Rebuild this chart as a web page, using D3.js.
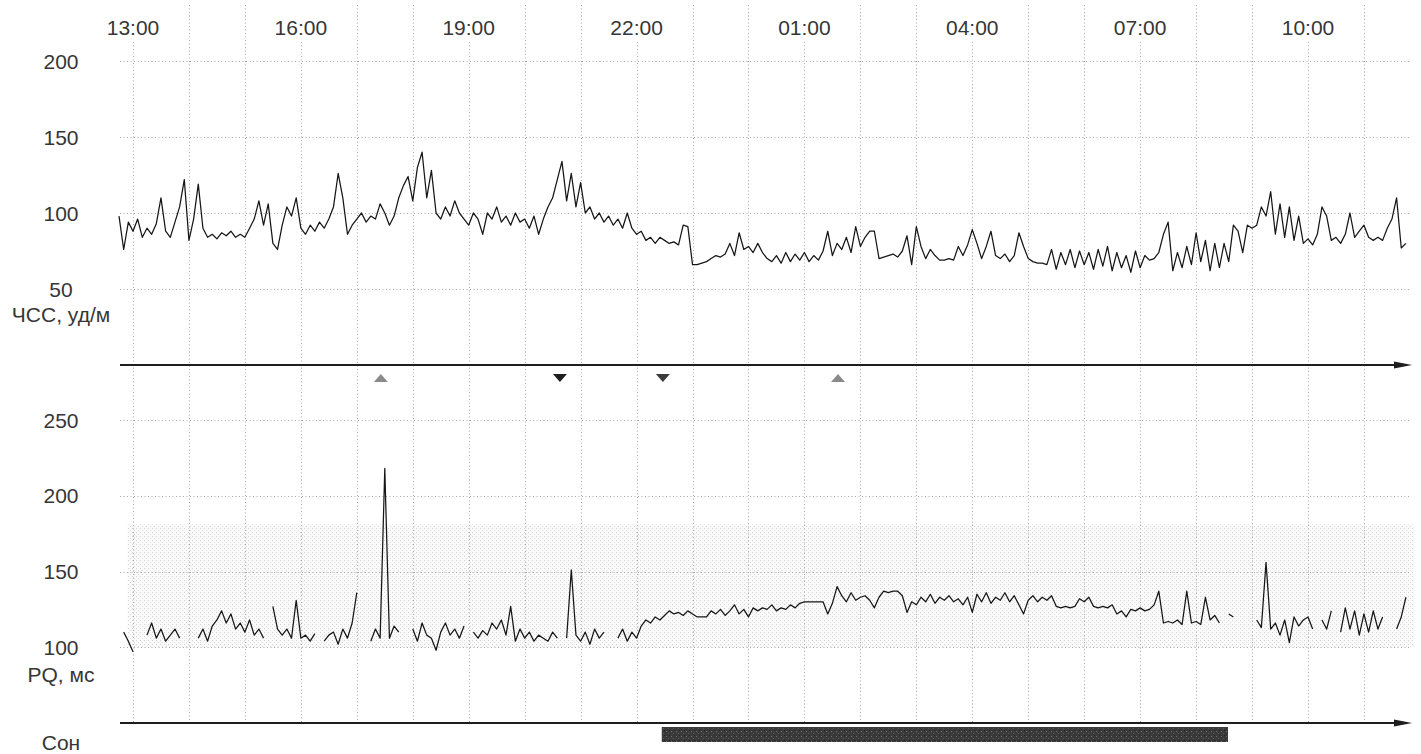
<!DOCTYPE html>
<html>
<head>
<meta charset="utf-8">
<script src="https://cdn.jsdelivr.net/npm/d3@7"></script>
<style>
  html, body { margin: 0; padding: 0; background: #fff; }
  svg { display: block; font-family: "Liberation Sans", Arial, sans-serif; }
</style>
</head>
<body>
<svg id="chart" width="1421" height="754"></svg>
<script>
// ---------- DATA ----------
// time expressed in hours after 13:00; samples every 5 minutes starting 12:45
const sampleStartHour = -0.25;
const sampleStepHours = 5 / 60;

const timeLabels = ["13:00", "16:00", "19:00", "22:00", "01:00", "04:00", "07:00", "10:00"];
const timeLabelHours = [0, 3, 6, 9, 12, 15, 18, 21];
const gridHours = d3.range(0, 23); // hourly grid lines 13:00 .. 11:00

const hrTicks = [200, 150, 100, 50];
const pqTicks = [250, 200, 150, 100];

// Heart rate, beats/min (ЧСС, уд/м)
const hrValues = [
  98, 76, 94,
  88, 96, 84, 90, 86, 93, 110, 88, 84, 94, 104, 122,
  82, 96, 119, 90, 84, 86, 83, 87, 85, 88, 84, 86,
  84, 90, 96, 108, 92, 106, 80, 76, 92, 104, 98, 110,
  90, 86, 92, 88, 94, 90, 96, 104, 126, 110, 86, 92,
  96, 100, 94, 98, 96, 106, 100, 92, 98, 110, 118, 124,
  108, 130, 140, 110, 128, 100, 96, 104, 98, 108, 100, 96,
  92, 100, 96, 86, 100, 96, 104, 94, 98, 92, 100, 94,
  96, 90, 98, 86, 96, 104, 110, 122, 134, 108, 126, 104,
  120, 100, 104, 96, 100, 94, 98, 92, 96, 90, 100, 90,
  86, 88, 82, 84, 80, 84, 82, 80, 81, 79, 92, 91,
  66, 66, 67, 68, 70, 72, 71, 73, 80, 72, 87, 76,
  78, 74, 80, 74, 70, 68, 72, 67, 74, 68, 73, 69,
  74, 68, 72, 69, 75, 88, 72, 80, 76, 84, 74, 91,
  78, 84, 88, 88, 70, 71, 72, 73, 71, 75, 85, 66,
  91, 78, 70, 76, 72, 69, 69, 70, 69, 78, 72, 79,
  89, 80, 70, 78, 88, 72, 70, 73, 68, 72, 87, 78,
  70, 68, 67, 67, 66, 76, 63, 74, 66, 76, 64, 75,
  66, 74, 63, 76, 65, 78, 62, 74, 64, 72, 61, 75,
  64, 72, 69, 70, 74, 86, 94, 62, 74, 64, 78, 66,
  87, 68, 82, 62, 80, 64, 80, 68, 92, 88, 74, 92,
  90, 92, 104, 98, 114, 86, 106, 84, 104, 82, 98, 80,
  83, 79, 86, 104, 98, 82, 84, 80, 86, 100, 84, 88,
  92, 84, 82, 84, 82, 90, 96, 110, 77, 80
];

// PQ interval, ms (null = no measurement)
const pqValues = [
  null, 110, 104,
  97, null, null, 108, 116, 106, 112, 104, 108, 112, 106, null,
  null, null, 106, 112, 104, 114, 118, 124, 116, 122, 112, 116,
  110, 118, 108, 112, 106, null, 127, 112, 108, 112, 106, 131,
  106, 108, 104, 109, null, 104, 108, 110, 102, 112, 106, 116,
  136, null, null, 104, 112, 106, 218, 106, 114, 110, null, null,
  112, 104, 116, 108, 106, 98, 110, 116, 108, 112, 106, 114,
  null, 110, 106, 111, 108, 116, 112, 118, 108, 127, 104, 112,
  106, 110, 104, 108, 106, 104, 110, 106, null, 106, 151, 108,
  104, 110, 102, 112, 106, 110, null, null, 106, 112, 104, 110,
  106, 114, 118, 116, 120, 118, 121, 124, 122, 123, 121, 124,
  122, 120, 120, 120, 124, 122, 125, 121, 124, 128, 122, 125,
  120, 126, 124, 126, 125, 128, 124, 126, 125, 128, 126, 129,
  130, 130, 130, 130, 130, 122, 129, 140, 134, 130, 136, 131,
  133, 134, 131, 126, 133, 137, 136, 137, 137, 134, 123, 130,
  128, 133, 130, 135, 129, 133, 131, 134, 130, 132, 128, 133,
  123, 135, 130, 136, 129, 133, 131, 136, 130, 134, 128, 122,
  131, 134, 130, 133, 131, 134, 127, 126, 127, 126, 127, 132,
  130, 133, 127, 126, 127, 126, 128, 122, 124, 120, 125, 124,
  126, 124, 125, 128, 137, 116, 117, 116, 118, 115, 137, 116,
  117, 115, 133, 118, 121, 116, null, 122, 120, null, 119, null,
  null, 118, 113, 156, 112, 116, 108, 118, 103, 120, 114, 118,
  120, 112, null, 118, 112, 124, null, 110, 126, 112, 124, 108,
  122, 110, 124, 112, 120, null, null, 112, 120, 133
];

// shaded reference band of the PQ panel (ms)
const pqBand = [100, 181];

// event markers below the HR axis
const markerHours = [4.43, 7.63, 9.47, 12.6];
const markerDirs = ["up", "down", "down", "up"];
const markerColors = ["#8a8a8a", "#1e1e1e", "#3a3a3a", "#8a8a8a"];

// sleep period (hours after 13:00)
const sleepStart = 9.45;
const sleepEnd = 19.57;

// ---------- DRAWING ----------
const svg = d3.select("#chart");
const W = 1421, H = 754;
svg.append("rect").attr("width", W).attr("height", H).attr("fill", "#fff");

const x = d3.scaleLinear().domain([0, 21]).range([133, 1308]);
const yHR = d3.scaleLinear().domain([0, 200]).range([365, 61]);
const yPQ = d3.scaleLinear().domain([50, 250]).range([723, 420]);

const xLeft = 120;
const textColor = "#363636";
const gridColor = "#a9a9a9";

const defs = svg.append("defs");
const pat = defs.append("pattern").attr("id", "stipple")
  .attr("width", 4).attr("height", 4).attr("patternUnits", "userSpaceOnUse");
pat.append("rect").attr("width", 4).attr("height", 4).attr("fill", "#fafafa");
pat.append("rect").attr("width", 1).attr("height", 1).attr("fill", "#d2d2d2");
pat.append("rect").attr("x", 2).attr("y", 2).attr("width", 1).attr("height", 1).attr("fill", "#dedede");

const sp = defs.append("pattern").attr("id", "sleepTex")
  .attr("width", 5).attr("height", 5).attr("patternUnits", "userSpaceOnUse");
sp.append("rect").attr("width", 5).attr("height", 5).attr("fill", "#3a3a3a");
sp.append("rect").attr("x", 1).attr("y", 1).attr("width", 1).attr("height", 1).attr("fill", "#6e6e6e");
sp.append("rect").attr("x", 3).attr("y", 3).attr("width", 1).attr("height", 1).attr("fill", "#5a5a5a");
sp.append("rect").attr("x", 4).attr("y", 0).attr("width", 1).attr("height", 1).attr("fill", "#262626");

// PQ band
svg.append("rect")
  .attr("x", x(-0.1)).attr("width", x(22.9) - x(-0.1))
  .attr("y", yPQ(pqBand[1])).attr("height", yPQ(pqBand[0]) - yPQ(pqBand[1]))
  .attr("fill", "url(#stipple)");

// vertical hourly grid
const gGrid = svg.append("g").attr("stroke", gridColor).attr("stroke-width", 1)
  .attr("stroke-dasharray", "1,2.5");
gridHours.forEach(h => {
  const labeled = timeLabelHours.includes(h);
  gGrid.append("line")
    .attr("x1", Math.round(x(h)) + 0.5).attr("x2", Math.round(x(h)) + 0.5)
    .attr("y1", labeled ? 42 : 5).attr("y2", 722);
});

// horizontal grids
hrTicks.forEach(v => {
  gGrid.append("line").attr("x1", xLeft).attr("x2", 1410)
    .attr("y1", Math.round(yHR(v)) + 0.5).attr("y2", Math.round(yHR(v)) + 0.5);
});
pqTicks.forEach(v => {
  gGrid.append("line").attr("x1", xLeft).attr("x2", 1410)
    .attr("y1", Math.round(yPQ(v)) + 0.5).attr("y2", Math.round(yPQ(v)) + 0.5);
});

// time labels
svg.append("g").selectAll("text").data(timeLabels).join("text")
  .attr("x", (d, i) => x(timeLabelHours[i]))
  .attr("y", 35)
  .attr("text-anchor", "middle")
  .attr("font-size", 21)
  .attr("fill", textColor)
  .text(d => d);

// tick labels
const labelX = 61;
svg.append("g").selectAll("text").data(hrTicks).join("text")
  .attr("x", labelX).attr("y", d => yHR(d) + 7.5)
  .attr("text-anchor", "middle").attr("font-size", 21).attr("fill", textColor)
  .text(d => d);
svg.append("g").selectAll("text").data(pqTicks).join("text")
  .attr("x", labelX).attr("y", d => yPQ(d) + 7.5)
  .attr("text-anchor", "middle").attr("font-size", 21).attr("fill", textColor)
  .text(d => d);

svg.append("text").attr("x", labelX).attr("y", 322).attr("text-anchor", "middle")
  .attr("font-size", 21).attr("fill", textColor).text("ЧСС, уд/м");
svg.append("text").attr("x", labelX).attr("y", 682).attr("text-anchor", "middle")
  .attr("font-size", 21).attr("fill", textColor).text("PQ, мс");
svg.append("text").attr("x", labelX).attr("y", 750).attr("text-anchor", "middle")
  .attr("font-size", 21).attr("fill", textColor).text("Сон");

// axes with arrows
function arrowAxis(y) {
  svg.append("line").attr("x1", xLeft).attr("x2", 1398).attr("y1", y).attr("y2", y)
    .attr("stroke", "#1e1e1e").attr("stroke-width", 1.8);
  svg.append("path")
    .attr("d", `M1394,${y - 3.5} L1412,${y} L1394,${y + 3.5} Z`)
    .attr("fill", "#1e1e1e");
}
arrowAxis(yHR(0));
arrowAxis(yPQ(50));

// HR line
const tOf = i => sampleStartHour + i * sampleStepHours;
const hrLine = d3.line()
  .x((d, i) => x(tOf(i)))
  .y(d => yHR(d));
svg.append("path").attr("d", hrLine(hrValues))
  .attr("fill", "none").attr("stroke", "#161616").attr("stroke-width", 1.25)
  .attr("stroke-linejoin", "round");

// PQ line
const pqLine = d3.line()
  .defined(d => d != null)
  .x((d, i) => x(tOf(i)))
  .y(d => yPQ(d));
svg.append("path").attr("d", pqLine(pqValues))
  .attr("fill", "none").attr("stroke", "#161616").attr("stroke-width", 1.25)
  .attr("stroke-linejoin", "round");

// markers
const my = 378;
markerHours.forEach((h, i) => {
  const cx = x(h);
  const d = markerDirs[i] === "up"
    ? `M${cx - 7},${my + 4} L${cx + 7},${my + 4} L${cx},${my - 4} Z`
    : `M${cx - 7},${my - 4} L${cx + 7},${my - 4} L${cx},${my + 4} Z`;
  svg.append("path").attr("d", d).attr("fill", markerColors[i]);
});

// sleep bar
svg.append("rect")
  .attr("x", x(sleepStart)).attr("width", x(sleepEnd) - x(sleepStart))
  .attr("y", 727).attr("height", 15)
  .attr("fill", "url(#sleepTex)");
</script>
</body>
</html>
